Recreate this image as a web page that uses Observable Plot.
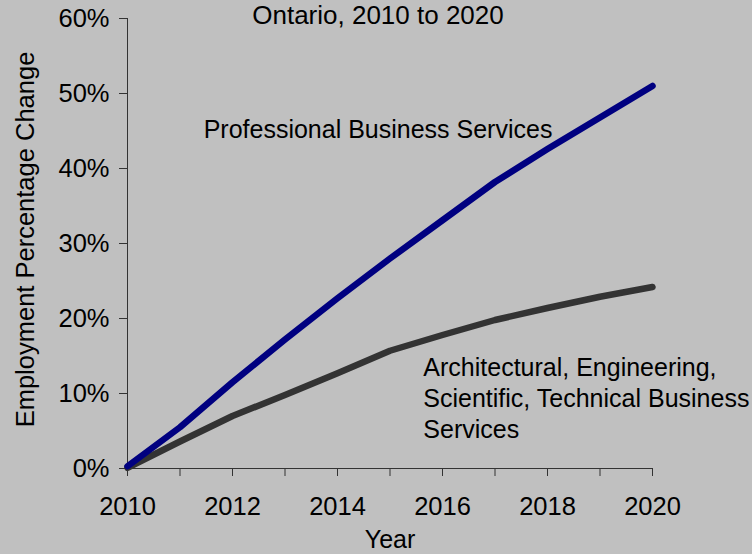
<!DOCTYPE html>
<html>
<head>
<meta charset="utf-8">
<script src="https://cdn.jsdelivr.net/npm/d3@7"></script>
<script src="https://cdn.jsdelivr.net/npm/@observablehq/plot@0.6"></script>
<style>
  html, body { margin: 0; padding: 0; background: #c0c0c0; }
  #chart svg { display: block; }
</style>
</head>
<body>
<div id="chart"></div>
<script>
const years = [2010, 2011, 2012, 2013, 2014, 2015, 2016, 2017, 2018, 2019, 2020];
const professional = [0.003, 0.055, 0.115, 0.172, 0.227, 0.280, 0.331, 0.382, 0.426, 0.468, 0.510];
const architectural = [0.001, 0.036, 0.070, 0.098, 0.127, 0.157, 0.178, 0.198, 0.214, 0.229, 0.242];
const seriesNames = ["Professional Business Services", "Architectural, Engineering,\nScientific, Technical Business\nServices"];
const yTicks = [0, 0.1, 0.2, 0.3, 0.4, 0.5, 0.6];
const xLabelTicks = [2010, 2012, 2014, 2016, 2018, 2020];
const title = "Ontario, 2010 to 2020";
const xTitle = "Year";
const yTitle = "Employment Percentage Change";

const data = [
  ...years.map((y, i) => ({year: y, value: professional[i], series: "pro"})),
  ...years.map((y, i) => ({year: y, value: architectural[i], series: "arch"}))
];

const font = "'Liberation Sans', Arial, sans-serif";

const chart = Plot.plot({
  width: 752,
  height: 554,
  marginLeft: 127,
  marginRight: 100,
  marginTop: 18,
  marginBottom: 86,
  style: {background: "#c0c0c0", fontFamily: font, fontSize: "25px", color: "#000", overflow: "visible"},
  x: {domain: [2010, 2020]},
  y: {domain: [0, 0.6]},
  marks: [
    Plot.axisY({ticks: yTicks, tickFormat: d3.format(".0%"), tickSize: 8, tickPadding: 10, stroke: "#333", fontSize: 25.5, label: null}),
    Plot.axisX({ticks: years, tickFormat: () => "", tickSize: 8, stroke: "#333", label: null}),
    Plot.axisX({ticks: xLabelTicks, tickFormat: d => String(d), tickSize: 0, tickPadding: 28, fontSize: 25.5, label: null}),
    Plot.ruleX([2010], {stroke: "#333", strokeWidth: 1}),
    Plot.ruleY([0], {stroke: "#333", strokeWidth: 1}),
    Plot.line(data.filter(d => d.series === "arch"), {x: "year", y: "value", stroke: "#333333", strokeWidth: 6.5, strokeLinejoin: "round"}),
    Plot.line(data.filter(d => d.series === "pro"), {x: "year", y: "value", stroke: "#000080", strokeWidth: 6.5, strokeLinejoin: "round"}),
    Plot.text([seriesNames[0]], {x: 2011.45, y: 0.4644, text: d => d, textAnchor: "start", lineAnchor: "top", fontSize: 25, fill: "#000"}),
    Plot.text([seriesNames[1]], {x: 2015.635, y: 0.1533, text: d => d, textAnchor: "start", lineAnchor: "top", lineHeight: 1.24, fontSize: 25, fill: "#000"}),
    Plot.text([title], {frameAnchor: "top", dx: -12, dy: -13, lineAnchor: "top", text: d => d, fontSize: 26, fill: "#000"}),
    Plot.text([xTitle], {frameAnchor: "bottom", dy: 62, lineAnchor: "top", text: d => d, fontSize: 25, fill: "#000"}),
    Plot.text([yTitle], {frameAnchor: "left", dx: -102, dy: -4, rotate: -90, textAnchor: "middle", lineAnchor: "middle", text: d => d, fontSize: 25.5, fill: "#000"})
  ]
});
document.getElementById("chart").appendChild(chart);
</script>
</body>
</html>
